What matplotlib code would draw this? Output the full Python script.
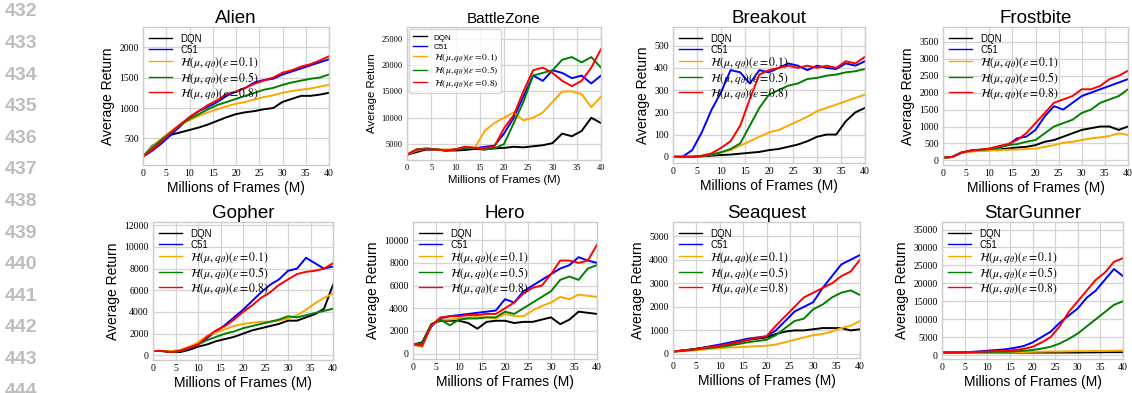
import matplotlib.pyplot as plt

plt.rcParams['mathtext.fontset'] = 'stix'
plt.rcParams['font.family'] = ['Liberation Sans', 'DejaVu Sans']

# x axis: millions of frames, read every 2M
frames = list(range(0, 41, 2))

methods = ["DQN", "C51",
           r"$\mathcal{H}(\mu, q_\theta)(\varepsilon = 0.1)$",
           r"$\mathcal{H}(\mu, q_\theta)(\varepsilon = 0.5)$",
           r"$\mathcal{H}(\mu, q_\theta)(\varepsilon = 0.8)$"]
colors = ["black", "blue", "orange", "green", "red"]

# each game: [DQN, C51, eps=0.1, eps=0.5, eps=0.8]
alien = [
    [200, 380, 470, 560, 600, 640, 680, 730, 790, 850, 900, 930, 950, 980, 1000, 1100, 1150, 1200, 1200, 1220, 1250],
    [200, 300, 420, 560, 700, 850, 950, 1020, 1100, 1200, 1270, 1330, 1420, 1460, 1480, 1550, 1600, 1650, 1700, 1750, 1800],
    [200, 370, 500, 620, 730, 800, 870, 930, 980, 1030, 1070, 1100, 1140, 1180, 1210, 1250, 1280, 1300, 1320, 1350, 1380],
    [200, 350, 480, 600, 720, 820, 900, 980, 1050, 1100, 1150, 1200, 1250, 1300, 1330, 1380, 1420, 1450, 1480, 1500, 1550],
    [200, 320, 450, 600, 730, 850, 950, 1050, 1130, 1230, 1270, 1330, 1400, 1450, 1500, 1580, 1620, 1680, 1720, 1780, 1850],
]
battlezone = [
    [3000, 3500, 4000, 4000, 3800, 3800, 3900, 4100, 4000, 4200, 4300, 4500, 4400, 4600, 4800, 5200, 7000, 6500, 7500, 10000, 9000],
    [3000, 4000, 4000, 4000, 3800, 4000, 4500, 4200, 4500, 4700, 7000, 10000, 14000, 18000, 17000, 19000, 18500, 17500, 18000, 16500, 18000],
    [3000, 3800, 4200, 4000, 4000, 4000, 4500, 4300, 7500, 9000, 10000, 11000, 9500, 10000, 11000, 13000, 15000, 15000, 14500, 12000, 14000],
    [3000, 4000, 4200, 4000, 3800, 4000, 4300, 4300, 4000, 4200, 5000, 9000, 13000, 18000, 18500, 19000, 21000, 21500, 20500, 21500, 19500],
    [3000, 4000, 4000, 4000, 3800, 4000, 4500, 4300, 4300, 4500, 8000, 10500, 15000, 19000, 19500, 18500, 17000, 16000, 17000, 19500, 23000],
]
breakout = [
    [0, 0, 0, 2, 5, 8, 10, 14, 18, 22, 30, 35, 45, 55, 70, 90, 100, 100, 160, 200, 220],
    [0, 0, 30, 110, 210, 290, 390, 380, 330, 390, 380, 400, 420, 410, 390, 410, 400, 395, 420, 410, 430],
    [0, 0, 0, 3, 10, 20, 30, 50, 70, 90, 110, 120, 140, 160, 180, 205, 220, 235, 250, 265, 280],
    [0, 0, 0, 3, 10, 20, 35, 60, 140, 220, 280, 300, 320, 330, 350, 355, 365, 370, 380, 385, 395],
    [0, 0, 0, 5, 15, 40, 70, 140, 260, 370, 390, 400, 410, 400, 410, 400, 410, 400, 430, 420, 450],
]
frostbite = [
    [80, 100, 230, 270, 290, 300, 320, 350, 380, 400, 450, 550, 600, 700, 800, 900, 950, 1000, 1000, 900, 1000],
    [80, 100, 230, 290, 310, 330, 380, 450, 650, 700, 900, 1300, 1600, 1500, 1700, 1900, 2000, 2100, 2200, 2300, 2400],
    [80, 100, 220, 260, 280, 290, 300, 310, 320, 330, 350, 400, 450, 520, 550, 600, 650, 680, 720, 800, 750],
    [80, 100, 230, 290, 310, 330, 380, 450, 480, 550, 600, 800, 1000, 1100, 1200, 1400, 1500, 1700, 1800, 1900, 2100],
    [80, 100, 230, 290, 320, 350, 420, 480, 600, 800, 1100, 1400, 1700, 1800, 1900, 2100, 2100, 2200, 2400, 2500, 2650],
]
gopher = [
    [400, 400, 350, 300, 500, 800, 1000, 1300, 1500, 1700, 2000, 2300, 2500, 2700, 2900, 3200, 3200, 3500, 3800, 4300, 6500],
    [400, 400, 300, 400, 600, 1000, 1600, 2200, 2800, 3500, 4200, 5000, 5800, 6500, 7000, 7800, 8000, 9000, 8500, 8000, 8200],
    [400, 400, 400, 500, 800, 1200, 1800, 2100, 2400, 2700, 2900, 3000, 3100, 3100, 3200, 3400, 3700, 4200, 4800, 5300, 5700],
    [400, 400, 300, 400, 700, 1000, 1400, 1700, 2000, 2200, 2500, 2700, 2900, 3100, 3300, 3600, 3500, 3700, 3900, 4100, 4300],
    [400, 400, 300, 400, 700, 1000, 1700, 2300, 2700, 3300, 4000, 4600, 5300, 5800, 6500, 7000, 7500, 7700, 7800, 8000, 8500],
]
hero = [
    [800, 1000, 2600, 2900, 2900, 2900, 2700, 2200, 2800, 2900, 2900, 2700, 2800, 2800, 3000, 3200, 2600, 3000, 3700, 3600, 3500],
    [800, 900, 2400, 3100, 3300, 3400, 3500, 3600, 3700, 3800, 4800, 4500, 5500, 6000, 6500, 7000, 7500, 7800, 8500, 8200, 8000],
    [800, 600, 2500, 3000, 3000, 3100, 3200, 3200, 3200, 3100, 3500, 3300, 3300, 3800, 4200, 4500, 5000, 4800, 5200, 5100, 5000],
    [800, 900, 2600, 3000, 2500, 3000, 3100, 3100, 3200, 3200, 3700, 3500, 4000, 4500, 5000, 5500, 6500, 6800, 6500, 7500, 7800],
    [800, 700, 2500, 3200, 3300, 3300, 3400, 3400, 3500, 3500, 4000, 4500, 5300, 5800, 6000, 7000, 8200, 8200, 8000, 8200, 9600],
]
seaquest = [
    [100, 150, 200, 250, 300, 350, 420, 500, 600, 650, 700, 850, 950, 1000, 1000, 1050, 1100, 1100, 1100, 1000, 1050],
    [100, 150, 180, 250, 330, 400, 480, 560, 650, 700, 750, 1000, 1400, 1800, 2000, 2200, 2800, 3300, 3800, 4000, 4200],
    [100, 120, 150, 180, 210, 250, 270, 290, 310, 330, 350, 400, 500, 600, 700, 800, 850, 950, 1100, 1200, 1400],
    [100, 130, 170, 220, 260, 300, 350, 420, 500, 550, 600, 800, 1100, 1400, 1500, 1900, 2100, 2400, 2600, 2700, 2500],
    [100, 150, 180, 250, 300, 350, 430, 500, 600, 680, 750, 1200, 1600, 2000, 2400, 2600, 2800, 3000, 3300, 3500, 4000],
]
stargunner = [
    [700, 700, 700, 700, 700, 700, 700, 700, 700, 700, 700, 700, 700, 700, 700, 700, 750, 750, 800, 800, 800],
    [700, 750, 800, 850, 1000, 1200, 1400, 1600, 2000, 2500, 3500, 5000, 6500, 9000, 11000, 13000, 16000, 18000, 21000, 24000, 22000],
    [700, 700, 700, 700, 700, 750, 750, 800, 800, 850, 900, 950, 1000, 1000, 1050, 1100, 1100, 1150, 1150, 1200, 1250],
    [700, 700, 700, 750, 800, 850, 900, 900, 1000, 1200, 1400, 1800, 2300, 3200, 4500, 6000, 8000, 10000, 12000, 14000, 15000],
    [700, 700, 750, 800, 900, 1000, 1100, 1200, 1400, 1700, 2300, 3500, 5000, 8000, 12000, 15000, 18000, 21000, 23000, 26000, 27000],
]

titles = ["Alien", "BattleZone", "Breakout", "Frostbite",
          "Gopher", "Hero", "Seaquest", "StarGunner"]
games = [alien, battlezone, breakout, frostbite, gopher, hero, seaquest, stargunner]
yticks = [range(500, 2001, 500), range(5000, 25001, 5000), range(0, 501, 100),
          range(0, 3501, 500), range(0, 12001, 2000), range(0, 10001, 2000),
          range(0, 5001, 1000), range(0, 35001, 5000)]
ylims = [(65, 2330), (2000, 27200), (-28, 584), (-137, 3940),
         (-430, 12300), (-470, 11600), (-170, 5600), (-1100, 37100)]

# axes boxes in pixels: left, top, right, bottom
W, H = 1132, 393
boxes = [(143, 27, 329, 165), (407, 27, 601, 160), (673, 27, 865, 163), (943, 27, 1128, 165),
         (153, 222, 333, 360), (413, 222, 597, 359), (673, 222, 860, 358), (942, 222, 1123, 359)]

fig = plt.figure(figsize=(W / 100, H / 100), dpi=100)

# page line numbers on the left (the last one is cut by the page edge)
for i, n in enumerate(range(432, 445)):
    fig.text(5 / W, 1 - (12 + i * 31.6) / H, str(n), fontsize=14, fontweight='bold',
             color='#bdbdbd', va='center', ha='left')

for k, (title, data) in enumerate(zip(titles, games)):
    l, t, r, b = boxes[k]
    ax = fig.add_axes([l / W, 1 - b / H, (r - l) / W, (b - t) / H])
    small = title == "BattleZone"
    for series, name, c in zip(data, methods, colors):
        ax.plot(frames, series, color=c, lw=1.4, label=name)
    ax.set_xlim(0, 40)
    ax.set_ylim(*ylims[k])
    ax.set_xticks(range(0, 41, 5))
    ax.set_yticks(list(yticks[k]))
    ax.grid(True, color='#d4d4d4', lw=0.9)
    ax.set_axisbelow(True)
    for s in ax.spines.values():
        s.set_color('#cccccc')
        s.set_linewidth(1.0)
    ax.tick_params(length=0, pad=3, labelsize=6 if small else 7)
    for lab in ax.get_xticklabels() + ax.get_yticklabels():
        lab.set_fontfamily('Liberation Serif')
    ax.set_title(title, fontsize=11 if small else 13.5, pad=3)
    ax.set_ylabel("Average Return", fontsize=8.2 if small else 10, labelpad=3)
    ax.set_xlabel("Millions of Frames (M)", fontsize=8.2 if small else 10, labelpad=2)
    if small:
        leg = ax.legend(loc='upper left', fontsize=5.8, frameon=True, handlelength=1.8,
                        handleheight=1.35, labelspacing=0.05, borderaxespad=0.3,
                        edgecolor='#cccccc')
        math_size = 6.8
    else:
        leg = ax.legend(loc='upper left', fontsize=7.0, frameon=False, handlelength=2.3,
                        handleheight=1.35, labelspacing=0.02, handletextpad=0.9,
                        borderaxespad=0.25)
        math_size = 8.4
    for txt in leg.get_texts()[2:]:
        txt.set_fontsize(math_size)
    for line in leg.get_lines():
        line.set_linewidth(1.0)

fig.savefig('out.png', dpi=100)
